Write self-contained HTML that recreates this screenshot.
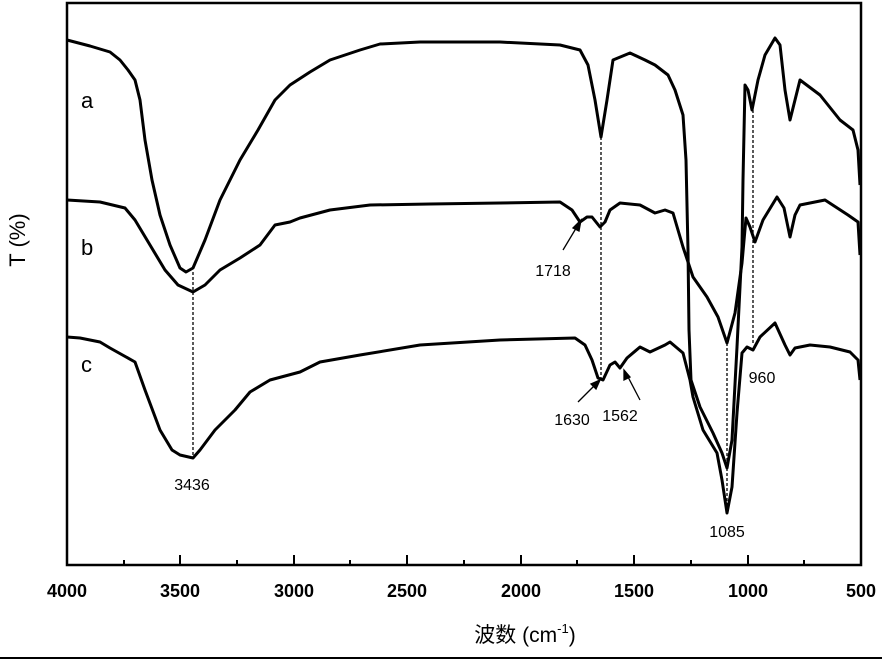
<!DOCTYPE html>
<html><head><style>body{margin:0;background:#fff}svg{display:block}</style></head><body>
<svg width="882" height="661" xmlns="http://www.w3.org/2000/svg" font-family="Liberation Sans, Noto Sans CJK SC, sans-serif">
<rect width="882" height="661" fill="#fff"/>
<rect x="67" y="3" width="794" height="562" fill="none" stroke="#000" stroke-width="2.5"/>
<g stroke="#000" stroke-width="2">
<line x1="180" y1="565" x2="180" y2="555"/><line x1="294" y1="565" x2="294" y2="555"/><line x1="407" y1="565" x2="407" y2="555"/><line x1="521" y1="565" x2="521" y2="555"/><line x1="634" y1="565" x2="634" y2="555"/><line x1="748" y1="565" x2="748" y2="555"/>
<line x1="124" y1="565" x2="124" y2="560"/><line x1="237" y1="565" x2="237" y2="560"/><line x1="350" y1="565" x2="350" y2="560"/><line x1="464" y1="565" x2="464" y2="560"/><line x1="577" y1="565" x2="577" y2="560"/><line x1="691" y1="565" x2="691" y2="560"/><line x1="804" y1="565" x2="804" y2="560"/>
</g>
<g font-size="18" text-anchor="middle" font-weight="bold" fill="#000">
<text x="67" y="597">4000</text><text x="180" y="597">3500</text><text x="294" y="597">3000</text><text x="407" y="597">2500</text><text x="521" y="597">2000</text><text x="634" y="597">1500</text><text x="748" y="597">1000</text><text x="861" y="597">500</text>
</g>
<text x="525" y="642" font-size="21" text-anchor="middle">波数 (cm<tspan dy="-9" font-size="13">-1</tspan><tspan dy="9">)</tspan></text>
<text transform="translate(25,240) rotate(-90)" font-size="22" text-anchor="middle">T (%)</text>
<line x1="0" y1="658" x2="882" y2="658" stroke="#000" stroke-width="2"/>
<g fill="none" stroke="#000" stroke-width="3" stroke-linejoin="round">
<polyline points="67,40 90,46 110,52 120,60 128,70 135,80 140,100 145,140 152,180 160,215 170,245 180,268 186,272 193,268 205,240 220,200 240,160 258,130 275,100 290,85 310,72 330,60 360,50 380,44 420,42 500,42 560,45 580,50 588,65 595,100 601,137 607,100 613,60 630,53 645,60 655,65 668,75 675,90 683,115 686,160 688,250 689,330 691,380 700,407 713,433 722,453 727,468 732,440 737,347 742,247 743,180 745,85 748,90 752,110 758,80 765,55 775,38 780,45 785,90 790,120 795,100 800,80 820,95 840,120 853,130 858,150 860,185"/>
<polyline points="67,200 100,202 125,208 135,220 150,245 165,270 178,285 193,292 205,285 220,270 240,258 260,245 275,225 290,222 300,218 330,210 370,205 430,204 500,203 560,202 572,210 580,222 587,217 592,217 600,227 605,222 610,210 620,203 640,205 655,213 665,210 673,213 683,247 693,277 707,297 718,317 727,343 735,313 742,263 746,218 750,227 755,242 763,220 777,197 784,208 790,237 795,215 800,205 825,200 848,215 858,222 860,255"/>
<polyline points="67,337 80,338 100,342 110,348 135,362 145,390 160,430 172,450 180,455 193,458 200,450 215,430 235,410 250,392 270,380 300,372 320,362 360,355 420,345 500,340 575,338 585,345 592,360 598,378 603,380 610,365 615,362 620,368 627,358 640,347 650,352 665,345 670,342 683,353 690,380 693,397 703,430 717,453 722,480 727,513 732,487 737,413 742,353 747,347 753,350 760,337 775,323 785,345 790,355 795,348 810,345 830,347 850,352 858,360 860,380"/>
</g>
<g stroke="#000" stroke-width="1.3" stroke-dasharray="3,2">
<line x1="193" y1="272" x2="193" y2="458"/><line x1="601" y1="137" x2="601" y2="380"/><line x1="727" y1="343" x2="727" y2="512"/><line x1="753" y1="110" x2="753" y2="345"/>
</g>
<g stroke="#000" stroke-width="1.3" fill="#000">
<line x1="563" y1="250" x2="578" y2="225"/><polygon points="581,220 573,228 579,231"/>
<line x1="578" y1="402" x2="597" y2="383"/><polygon points="600,380 591,384 596,389"/>
<line x1="640" y1="400" x2="627" y2="375"/><polygon points="624,370 624,380 630,377"/>
</g>
<g font-size="16" text-anchor="middle" fill="#000">
<text x="192" y="490">3436</text><text x="553" y="276">1718</text><text x="572" y="425">1630</text><text x="620" y="421">1562</text><text x="762" y="383">960</text><text x="727" y="537">1085</text>
</g>
<g font-size="22" fill="#000"><text x="81" y="108">a</text><text x="81" y="255">b</text><text x="81" y="372">c</text></g>
</svg>
</body></html>
